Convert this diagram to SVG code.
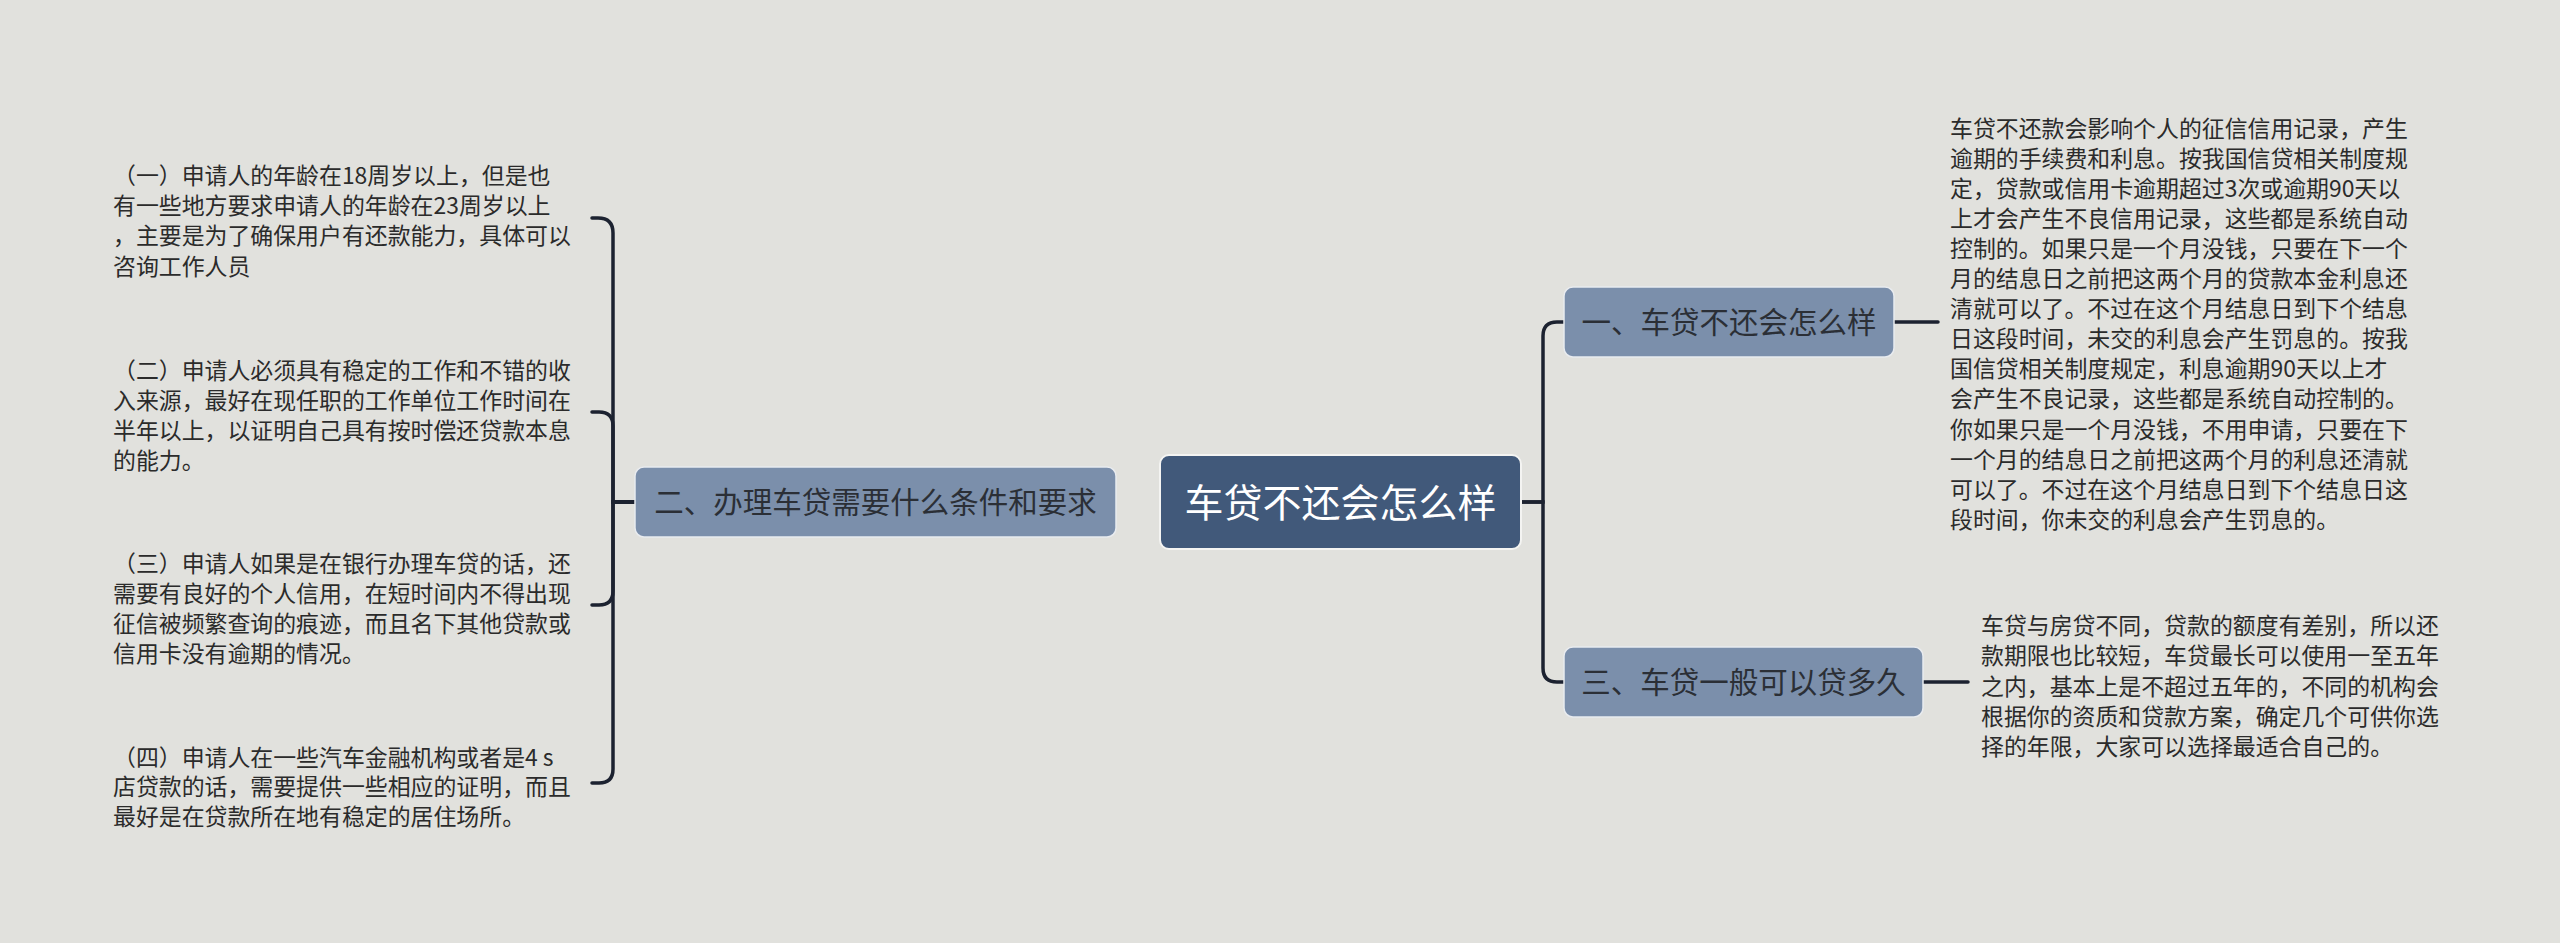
<svg xmlns="http://www.w3.org/2000/svg" width="2560" height="943" viewBox="0 0 2560 943">
<style>
.bg{fill:#e1e1dd}
.conn{fill:none;stroke:#1c2230;stroke-width:3.5;stroke-linecap:round}
.root{fill:#41597a;stroke:#f4f4f2;stroke-width:2}
.branch{fill:#7b8fab;stroke:#e8ebef;stroke-width:1.5}
text{font-family:"Microsoft YaHei","Noto Sans CJK SC","Noto Sans",sans-serif}
.rt{fill:#ffffff;font-size:39px;text-anchor:middle}
.bt{fill:#2b2f36;font-size:29.5px;text-anchor:middle}
.lt{fill:#2b2b2b;font-size:22.9px}
</style>
<rect class="bg" x="0" y="0" width="2560" height="943"/>
<g id="connectors">
<path class="conn" d="M1521 502 H1543 V336 Q1543 322 1557 322 H1564"/>
<path class="conn" d="M1521 502 H1543 V668 Q1543 682 1557 682 H1564"/>
<path class="conn" d="M1894 322 H1938"/>
<path class="conn" d="M1923 682 H1968"/>
<path class="conn" d="M635 502 H613 V233 Q613 218 598 218 H592"/>
<path class="conn" d="M635 502 H613 V426 Q613 412 599 412 H592"/>
<path class="conn" d="M635 502 H613 V591 Q613 605 599 605 H592"/>
<path class="conn" d="M635 502 H613 V769 Q613 783 599 783 H592"/>
</g>
<g id="root">
<rect class="root" x="1160" y="455" width="361" height="94" rx="9"/>
<text class="rt" x="1340.5" y="517">车贷不还会怎么样</text>
</g>
<g id="branch2">
<rect class="branch" x="635" y="467" width="481" height="70" rx="9"/>
<text class="bt" x="875.5" y="513">二、办理车贷需要什么条件和要求</text>
</g>
<g id="branch1">
<rect class="branch" x="1564" y="287" width="330" height="70" rx="9"/>
<text class="bt" x="1729" y="333">一、车贷不还会怎么样</text>
</g>
<g id="branch3">
<rect class="branch" x="1564" y="647" width="359" height="70" rx="9"/>
<text class="bt" x="1743.5" y="693">三、车贷一般可以贷多久</text>
</g>
<g id="leaf1">
<text class="lt" x="1950" y="136.7"><tspan x="1950">车贷不还款会影响个人的征信信用记录，产生</tspan><tspan x="1950" dy="30.08">逾期的手续费和利息。按我国信贷相关制度规</tspan><tspan x="1950" dy="30.08">定，贷款或信用卡逾期超过3次或逾期90天以</tspan><tspan x="1950" dy="30.08">上才会产生不良信用记录，这些都是系统自动</tspan><tspan x="1950" dy="30.08">控制的。如果只是一个月没钱，只要在下一个</tspan><tspan x="1950" dy="30.08">月的结息日之前把这两个月的贷款本金利息还</tspan><tspan x="1950" dy="30.08">清就可以了。不过在这个月结息日到下个结息</tspan><tspan x="1950" dy="30.08">日这段时间，未交的利息会产生罚息的。按我</tspan><tspan x="1950" dy="30.08">国信贷相关制度规定，利息逾期90天以上才</tspan><tspan x="1950" dy="30.08">会产生不良记录，这些都是系统自动控制的。</tspan><tspan x="1950" dy="30.08">你如果只是一个月没钱，不用申请，只要在下</tspan><tspan x="1950" dy="30.08">一个月的结息日之前把这两个月的利息还清就</tspan><tspan x="1950" dy="30.08">可以了。不过在这个月结息日到下个结息日这</tspan><tspan x="1950" dy="30.08">段时间，你未交的利息会产生罚息的。</tspan></text>
</g>
<g id="leaf3">
<text class="lt" x="1981" y="633.7"><tspan x="1981">车贷与房贷不同，贷款的额度有差别，所以还</tspan><tspan x="1981" dy="30.4">款期限也比较短，车贷最长可以使用一至五年</tspan><tspan x="1981" dy="30.4">之内，基本上是不超过五年的，不同的机构会</tspan><tspan x="1981" dy="30.4">根据你的资质和贷款方案，确定几个可供你选</tspan><tspan x="1981" dy="30.4">择的年限，大家可以选择最适合自己的。</tspan></text>
</g>
<g id="leaf2a">
<text class="lt" x="113" y="184"><tspan x="113">（一）申请人的年龄在18周岁以上，但是也</tspan><tspan x="113" dy="30.2">有一些地方要求申请人的年龄在23周岁以上</tspan><tspan x="113" dy="30.2">，主要是为了确保用户有还款能力，具体可以</tspan><tspan x="113" dy="30.2">咨询工作人员</tspan></text>
</g>
<g id="leaf2b">
<text class="lt" x="113" y="378.5"><tspan x="113">（二）申请人必须具有稳定的工作和不错的收</tspan><tspan x="113" dy="30.2">入来源，最好在现任职的工作单位工作时间在</tspan><tspan x="113" dy="30.2">半年以上，以证明自己具有按时偿还贷款本息</tspan><tspan x="113" dy="30.2">的能力。</tspan></text>
</g>
<g id="leaf2c">
<text class="lt" x="113" y="571.7"><tspan x="113">（三）申请人如果是在银行办理车贷的话，还</tspan><tspan x="113" dy="30.2">需要有良好的个人信用，在短时间内不得出现</tspan><tspan x="113" dy="30.2">征信被频繁查询的痕迹，而且名下其他贷款或</tspan><tspan x="113" dy="30.2">信用卡没有逾期的情况。</tspan></text>
</g>
<g id="leaf2d">
<text class="lt" x="113" y="765.5"><tspan x="113">（四）申请人在一些汽车金融机构或者是4 s</tspan><tspan x="113" dy="29.5">店贷款的话，需要提供一些相应的证明，而且</tspan><tspan x="113" dy="29.5">最好是在贷款所在地有稳定的居住场所。</tspan></text>
</g>
</svg>
